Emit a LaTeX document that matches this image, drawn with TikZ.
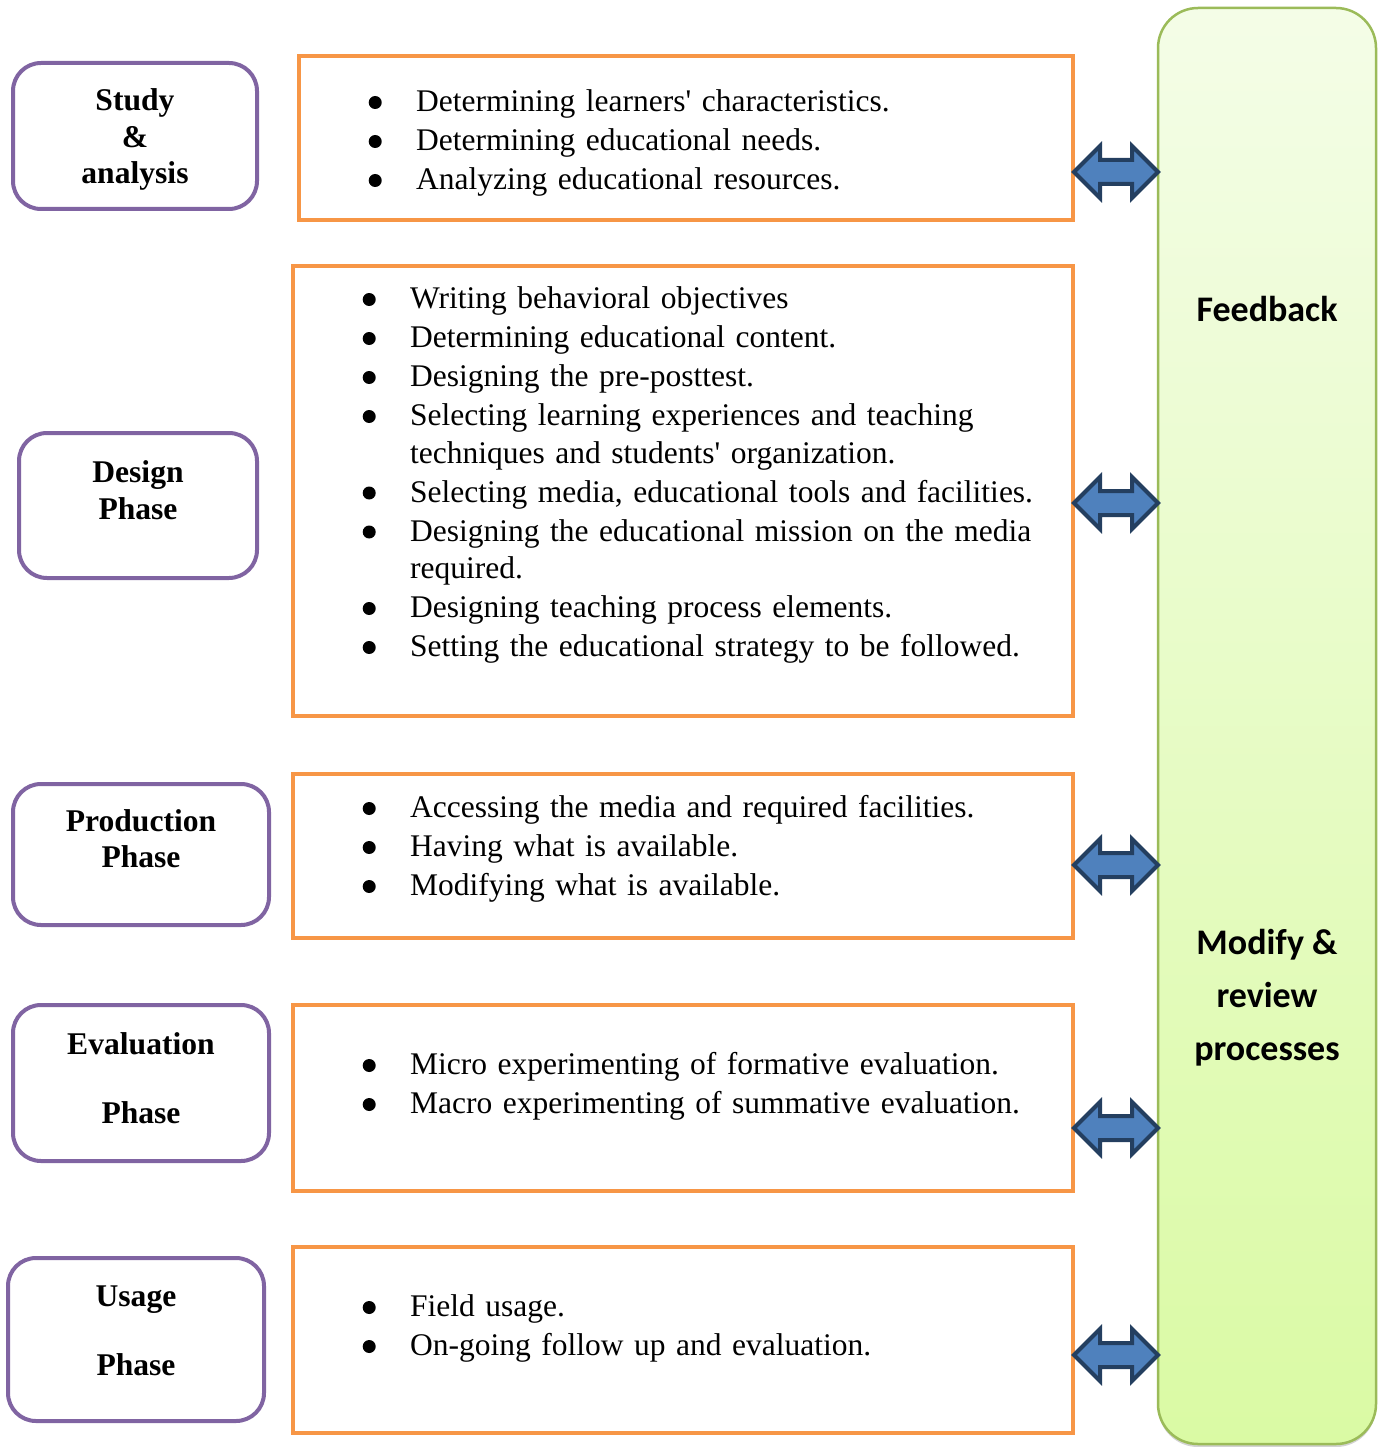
\documentclass[tikz,border=0pt]{standalone}
\usepackage{fontspec}
\setmainfont{Liberation Serif}
\newfontfamily\calibfont{Carlito}
\usetikzlibrary{positioning,shapes.arrows,shadows}

\definecolor{phasepurple}{HTML}{8064A2}
\definecolor{taskorange}{HTML}{F79646}
\definecolor{fbgreen}{HTML}{9BBB59}
\definecolor{fbtop}{HTML}{F4FDE7}
\definecolor{fbbottom}{HTML}{DAFAA4}
\definecolor{arrfill}{HTML}{4F81BD}
\definecolor{arrline}{HTML}{243F60}

\newcommand{\taskdot}{\tikz[baseline=-9pt]\fill (0,0) circle (6.5pt);}
\newenvironment{tasklist}{\begin{list}{\taskdot}{%
  \setlength{\leftmargin}{47.5pt}\setlength{\labelwidth}{13pt}%
  \setlength{\labelsep}{34.5pt}\setlength{\itemsep}{1.5pt}%
  \setlength{\parsep}{0pt}\setlength{\topsep}{0pt}\setlength{\partopsep}{0pt}}}%
  {\end{list}}

\tikzset{
  phase/.style={draw=phasepurple, line width=4pt, rounded corners=28pt, fill=white},
  phasetxt/.style={font=\fontsize{31.6}{36.5}\selectfont\bfseries, align=center},
  taskbox/.style={draw=taskorange, line width=4pt},
  tasktxt/.style={font=\fontsize{31.5}{37.5}\selectfont, text width=700pt,
    inner sep=0pt, align=left, anchor=base west},
  fbbar/.style={draw=fbgreen, line width=2.5pt, rounded corners=40pt,
    top color=fbtop, bottom color=fbbottom,
    drop shadow={shadow xshift=0pt, shadow yshift=-3pt, opacity=0.35}},
  fbtxt/.style={font=\calibfont\fontsize{36}{53}\selectfont\bfseries, align=center},
  dblarrow/.style={double arrow, draw=arrline, fill=arrfill, line width=4pt,
    minimum height=84pt, text height=10pt, text depth=10pt, text width=0pt,
    double arrow head extend=14pt, inner sep=0pt}
}

\begin{document}
\begin{tikzpicture}[x=1pt,y=-1pt]
\useasboundingbox (0,0) rectangle (1384,1447);

% feedback bar
\node[fbbar, minimum width=218pt, minimum height=1436pt] (fb) at (1267,726) {};
\node[fbtxt] (fbk) at (1267,309) {Feedback};
\node[fbtxt] (mod) at (1267,998) {Modify \&\\review\\processes};

% phases
\node[phase, minimum width=244pt, minimum height=146pt] (p1) at (135,136) {};
\node[phase, minimum width=238pt, minimum height=145pt] (p2) at (138,505.5) {};
\node[phase, minimum width=256pt, minimum height=141pt] (p3) at (141,854.5) {};
\node[phase, minimum width=256pt, minimum height=156pt] (p4) at (141,1083) {};
\node[phase, minimum width=256pt, minimum height=163pt] (p5) at (136,1339.5) {};

\node[phasetxt] (p1t) at (135,139.5) {Study\\\&\\analysis};
\node[phasetxt] (p2t) at (138,490) {Design\\Phase};
\node[phasetxt] (p3t) at (141,838.5) {Production\\Phase};
\node[phasetxt] (p4t) at (141,1078) {Evaluation\\[32.5pt]Phase};
\node[phasetxt] (p5t) at (136,1331) {Usage\\[32.5pt]Phase};

% tasks
\node[taskbox, minimum width=774pt, minimum height=164pt] (o1) at (686,138) {};
\node[taskbox, minimum width=780pt, minimum height=450pt] (o2) at (683,491) {};
\node[taskbox, minimum width=780pt, minimum height=164pt] (o3) at (683,856) {};
\node[taskbox, minimum width=780pt, minimum height=186pt] (o4) at (683,1098) {};
\node[taskbox, minimum width=780pt, minimum height=186pt] (o5) at (683,1340) {};

\node[tasktxt] (t1) at (368.5,74) {\begin{tasklist}
  \item Determining learners\textquotesingle{} characteristics.
  \item Determining educational needs.
  \item Analyzing educational resources.
\end{tasklist}};
\node[tasktxt] (t2) at (362.5,271) {\begin{tasklist}
  \item Writing behavioral objectives
  \item Determining educational content.
  \item Designing the pre-posttest.
  \item Selecting learning experiences and teaching\\techniques and students\textquotesingle{} organization.
  \item Selecting media, educational tools and facilities.
  \item Designing the educational mission on the media\\required.
  \item Designing teaching process elements.
  \item Setting the educational strategy to be followed.
\end{tasklist}};
\node[tasktxt] (t3) at (362.5,780) {\begin{tasklist}
  \item Accessing the media and required facilities.
  \item Having what is available.
  \item Modifying what is available.
\end{tasklist}};
\node[tasktxt] (t4) at (362.5,1037) {\begin{tasklist}
  \item Micro experimenting of formative evaluation.
  \item Macro experimenting of summative evaluation.
\end{tasklist}};
\node[tasktxt] (t5) at (362.5,1279) {\begin{tasklist}
  \item Field usage.
  \item On-going follow up and evaluation.
\end{tasklist}};

% links to feedback
\node[dblarrow] (a1) at (1116,172) {};
\node[dblarrow] (a2) at (1116,503) {};
\node[dblarrow] (a3) at (1116,865) {};
\node[dblarrow] (a4) at (1116,1128) {};
\node[dblarrow] (a5) at (1116,1355) {};

\end{tikzpicture}
\end{document}
